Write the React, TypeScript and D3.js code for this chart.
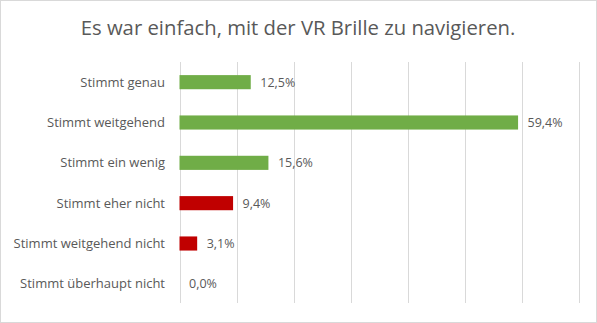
import React from "react";
import * as d3 from "d3";

const title = "Es war einfach, mit der VR Brille zu navigieren.";
const categories = [
  "Stimmt genau",
  "Stimmt weitgehend",
  "Stimmt ein wenig",
  "Stimmt eher nicht",
  "Stimmt weitgehend nicht",
  "Stimmt überhaupt nicht",
];
const values = [12.5, 59.4, 15.6, 9.4, 3.1, 0.0];
const barColors = ["#70AD47", "#70AD47", "#70AD47", "#C00000", "#C00000", "#C00000"];
const gridTicks = [0, 10, 20, 30, 40, 50, 60, 70];

const W = 597;
const H = 323;
const FONT = "'Open Sans', sans-serif";

export default function App() {
  const x = d3.scaleLinear().domain([0, 70]).range([179.5, 578.5]);
  const y = d3.scaleBand<string>().domain(categories).range([62, 304]).paddingInner(0.65).paddingOuter(0.325);
  const fmt = (v: number) => v.toFixed(1).replace(".", ",") + "%";
  return (
    <svg width={W} height={H} style={{ position: "absolute", left: 0, top: 0 }} fontFamily={FONT}>
      <rect x={0.5} y={0.5} width={W - 1} height={H - 1} fill="#fff" stroke="#d9d9d9" />
      <text x={298} y={35} textAnchor="middle" fontSize={20.3} fill="#595959">
        {title}
      </text>
      {gridTicks.map((t) => (
        <line key={t} x1={Math.round(x(t)) + 0.5} x2={Math.round(x(t)) + 0.5} y1={62} y2={303} stroke="#d9d9d9" strokeWidth={1} />
      ))}
      {categories.map((c, i) => {
        const by = y(c)!;
        const bh = y.bandwidth();
        const cy = by + bh / 2;
        return (
          <g key={c}>
            <rect x={x(0)} y={by} width={x(values[i]) - x(0)} height={bh} fill={barColors[i]} />
            <text x={165} y={cy} dy="0.35em" textAnchor="end" fontSize={13} fill="#595959">
              {c}
            </text>
            <text x={x(values[i]) + 9.5} y={cy} dy="0.35em" textAnchor="start" fontSize={12.5} fill="#595959">
              {fmt(values[i])}
            </text>
          </g>
        );
      })}
    </svg>
  );
}
